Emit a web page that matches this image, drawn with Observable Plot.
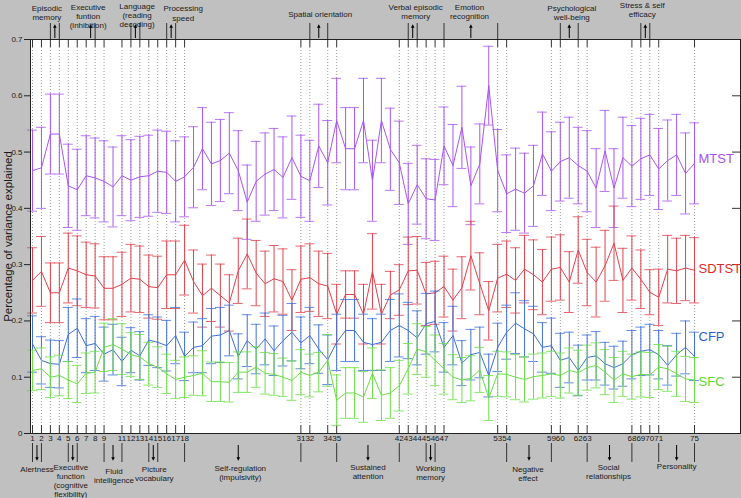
<!DOCTYPE html>
<html><head><meta charset="utf-8">
<script src="https://cdn.jsdelivr.net/npm/d3@7"></script>
<script src="https://cdn.jsdelivr.net/npm/@observablehq/plot@0.6"></script>
<style>html,body{margin:0;padding:0;background:#c0c0c0;} svg{display:block;}</style>
</head><body><div id="chart"></div>
<script>
// ---------- DATA ----------
const items = [1,2,3,4,5,6,7,8,9,10,11,12,13,14,15,16,17,18,19,20,21,22,23,24,25,26,27,28,29,30,31,32,33,34,35,36,37,38,39,40,41,42,43,44,45,46,47,48,49,50,51,52,53,54,55,56,57,58,59,60,61,62,63,64,65,66,67,68,69,70,71,72,73,74,75];

const mtstMean = [0.467,0.472,0.532,0.532,0.440,0.433,0.458,0.454,0.448,0.438,0.458,0.450,0.456,0.458,0.466,0.464,0.448,0.456,0.473,0.506,0.479,0.485,0.498,0.467,0.411,0.448,0.461,0.469,0.455,0.490,0.457,0.449,0.511,0.481,0.556,0.506,0.506,0.556,0.449,0.556,0.505,0.481,0.408,0.442,0.417,0.415,0.511,0.476,0.544,0.440,0.479,0.618,0.467,0.426,0.434,0.427,0.440,0.497,0.466,0.483,0.490,0.476,0.466,0.436,0.502,0.436,0.490,0.475,0.488,0.495,0.470,0.485,0.495,0.462,0.480];
const mtstErr  = [0.072,0.072,0.071,0.071,0.074,0.072,0.071,0.071,0.072,0.071,0.071,0.072,0.072,0.072,0.073,0.073,0.072,0.071,0.072,0.073,0.074,0.073,0.072,0.071,0.066,0.071,0.073,0.073,0.072,0.074,0.073,0.072,0.074,0.075,0.075,0.073,0.073,0.075,0.072,0.075,0.073,0.074,0.072,0.070,0.071,0.072,0.069,0.073,0.073,0.069,0.071,0.070,0.073,0.069,0.073,0.071,0.072,0.074,0.070,0.070,0.072,0.068,0.072,0.070,0.072,0.070,0.072,0.072,0.072,0.072,0.072,0.072,0.072,0.072,0.072];

const sdtstMean = [0.272,0.288,0.250,0.250,0.294,0.289,0.282,0.280,0.258,0.258,0.265,0.276,0.274,0.261,0.259,0.282,0.282,0.308,0.270,0.245,0.258,0.245,0.232,0.289,0.319,0.285,0.266,0.275,0.270,0.237,0.274,0.277,0.266,0.262,0.212,0.247,0.247,0.212,0.288,0.212,0.246,0.255,0.289,0.290,0.248,0.250,0.261,0.237,0.259,0.316,0.266,0.218,0.276,0.283,0.272,0.292,0.282,0.269,0.292,0.295,0.269,0.326,0.286,0.269,0.298,0.338,0.272,0.294,0.274,0.251,0.242,0.292,0.289,0.294,0.290];
const sdtstErr  = [0.058,0.062,0.053,0.053,0.062,0.062,0.058,0.057,0.056,0.056,0.057,0.060,0.059,0.056,0.056,0.060,0.060,0.062,0.056,0.056,0.059,0.056,0.050,0.058,0.062,0.058,0.058,0.059,0.058,0.054,0.059,0.060,0.058,0.058,0.053,0.042,0.042,0.053,0.067,0.053,0.042,0.045,0.060,0.060,0.056,0.056,0.054,0.055,0.055,0.061,0.055,0.052,0.060,0.059,0.058,0.060,0.062,0.058,0.057,0.058,0.054,0.059,0.059,0.062,0.063,0.066,0.057,0.057,0.052,0.040,0.050,0.060,0.058,0.058,0.058];

const cfpMean = [0.159,0.130,0.124,0.123,0.176,0.187,0.156,0.160,0.141,0.149,0.128,0.148,0.138,0.166,0.162,0.156,0.174,0.137,0.153,0.156,0.173,0.175,0.183,0.137,0.165,0.150,0.168,0.147,0.165,0.180,0.161,0.174,0.150,0.131,0.162,0.183,0.183,0.162,0.158,0.162,0.183,0.192,0.183,0.170,0.195,0.199,0.153,0.174,0.125,0.140,0.144,0.103,0.153,0.180,0.196,0.186,0.177,0.153,0.156,0.130,0.135,0.112,0.135,0.138,0.124,0.117,0.124,0.140,0.146,0.149,0.140,0.121,0.140,0.153,0.137];
const cfpErr  = [0.050,0.042,0.042,0.042,0.048,0.052,0.048,0.048,0.048,0.045,0.043,0.040,0.043,0.045,0.045,0.045,0.050,0.043,0.045,0.048,0.049,0.049,0.045,0.040,0.046,0.044,0.046,0.044,0.045,0.051,0.046,0.050,0.043,0.044,0.050,0.055,0.055,0.050,0.046,0.050,0.055,0.056,0.050,0.048,0.054,0.054,0.044,0.052,0.040,0.045,0.045,0.038,0.043,0.048,0.054,0.050,0.049,0.044,0.049,0.048,0.045,0.045,0.040,0.043,0.038,0.038,0.040,0.043,0.043,0.045,0.043,0.035,0.038,0.047,0.043];

const sfcMean = [0.112,0.115,0.100,0.103,0.095,0.088,0.107,0.109,0.153,0.158,0.150,0.140,0.136,0.124,0.118,0.106,0.096,0.100,0.103,0.107,0.092,0.092,0.091,0.109,0.109,0.118,0.107,0.105,0.100,0.094,0.109,0.103,0.109,0.130,0.059,0.072,0.072,0.065,0.107,0.068,0.072,0.085,0.115,0.150,0.145,0.130,0.115,0.100,0.095,0.098,0.113,0.063,0.106,0.105,0.100,0.096,0.101,0.103,0.106,0.103,0.112,0.108,0.117,0.121,0.109,0.095,0.106,0.101,0.105,0.104,0.118,0.115,0.106,0.097,0.095];
const sfcErr  = [0.036,0.037,0.036,0.036,0.033,0.033,0.036,0.037,0.043,0.046,0.045,0.039,0.040,0.038,0.036,0.035,0.034,0.036,0.035,0.040,0.035,0.035,0.035,0.036,0.036,0.036,0.037,0.037,0.034,0.035,0.040,0.038,0.035,0.046,0.045,0.045,0.045,0.045,0.045,0.045,0.045,0.045,0.045,0.045,0.045,0.045,0.045,0.040,0.040,0.040,0.040,0.040,0.040,0.040,0.040,0.040,0.040,0.040,0.040,0.040,0.040,0.040,0.040,0.040,0.040,0.040,0.040,0.040,0.040,0.040,0.040,0.040,0.040,0.040,0.040];

const seriesNames = ["MTST","SDTST","CFP","SFC"];
const seriesLabelY = [0.488, 0.293, 0.172, 0.091];

const tickIdx = [1,2,3,4,5,6,7,8,9,11,12,13,14,15,16,17,18,31,32,34,35,42,43,44,45,46,47,53,54,59,60,62,63,68,69,70,71,75];
const tickLabels = tickIdx.map(String);
const yTicks = [0,0.1,0.2,0.3,0.4,0.5,0.6,0.7];
const yTickLabels = ["0","0.1","0.2","0.3","0.4","0.5","0.6","0.7"];

const topLines = [3,4,8,12,13,16,17,32,34,43,44,47,53,60,62,69,70];
const topGroupNames = ["Episodic\nmemory","Executive\nfuntion\n(inhibition)","Language\n(reading\ndecoding)","Processing\nspeed","Spatial orientation","Verbal episodic\nmemory","Emotion\nrecognition","Psychological\nwell-being","Stress & self\nefficacy"];
const topGroupAt = [3.5, 7.5, 12.5, 16.5, 33, 43.5, 50, 61, 69.5];

const bottomLines = [1,2,5,6,9,11,14,15,18,31,35,42,45,46,54,59,63,68,71,75];
const bottomGroupNames = ["Alertness","Executive\nfunction\n(cognitive\nflexibility)","Fluid\nintelligence","Picture\nvocabulary","Self-regulation\n(impulsivity)","Sustained\nattention","Working\nmemory","Negative\neffect","Social\nrelationships","Personality"];
const bottomGroupAt = [1.5, 5.5, 10, 14.5, 24, 38.5, 45.5, 56.5, 65.5, 73];

// ---------- LAYOUT / STYLE ----------
const W = 741, H = 498, mL = 30, mR = 1, mT = 39, mB = 65;
const frameH = H - mT - mB, frameW = W - mL - mR;
const colors = {MTST: "#a855f0", SDTST: "#e0404c", CFP: "#3f6fd8", SFC: "#6ade45"};
const labelColors = {MTST: "#a94ef0", SDTST: "#dd2a2a", CFP: "#2f5fd6", SFC: "#5ad82e"};
const topLabelDx = [-8, -2.5, 1.7, 12, 1.4, 3, -1.4, 2.5, -3];
const topLabelTop = [3.7, 3, 2, 4.3, 9.7, 2.7, 2.7, 3.7, 1];
const bottomLabelDx = [0, -2, 1, 1, 2, 0, 0, -1, -1, 0];
const bottomLabelTop = [464.7, 463, 467, 465.3, 464, 462.7, 463.7, 465.3, 463, 462];
const FONT = "Liberation Sans, Arial, sans-serif";

const triUp = {draw(ctx, size){ const s = Math.sqrt(size/Math.PI); ctx.moveTo(0,-1.3*s); ctx.lineTo(s,0.7*s); ctx.lineTo(-s,0.7*s); ctx.closePath(); }};
const triDown = {draw(ctx, size){ const s = Math.sqrt(size/Math.PI); ctx.moveTo(0,1.3*s); ctx.lineTo(s,-0.7*s); ctx.lineTo(-s,-0.7*s); ctx.closePath(); }};

const seriesData = {
  MTST: [mtstMean, mtstErr], SDTST: [sdtstMean, sdtstErr], CFP: [cfpMean, cfpErr], SFC: [sfcMean, sfcErr]
};

const seriesMarks = seriesNames.flatMap(name => {
  const [mean, err] = seriesData[name];
  const rows = items.map((it, i) => ({i: it, m: mean[i], lo: mean[i] - err[i], hi: mean[i] + err[i]}));
  const c = colors[name];
  return [
    Plot.ruleX(rows, {x: "i", y1: "lo", y2: "hi", stroke: c, strokeWidth: 1}),
    Plot.ruleY(rows, {x1: d => d.i - 0.55, x2: d => d.i + 0.55, y: "lo", stroke: c, strokeWidth: 1, strokeOpacity: 0.8}),
    Plot.ruleY(rows, {x1: d => d.i - 0.55, x2: d => d.i + 0.55, y: "hi", stroke: c, strokeWidth: 1, strokeOpacity: 0.8}),
    Plot.line(rows, {x: "i", y: "m", stroke: c, strokeWidth: 1})
  ];
});

const topTextMarks = topGroupNames.map((t, k) => Plot.text([t], {
  x: () => topGroupAt[k], frameAnchor: "top", dy: topLabelTop[k] - mT, dx: topLabelDx[k],
  text: d => d, lineAnchor: "top", lineHeight: 1.15, fontSize: 8, fill: "#1a1a1a", fontFamily: FONT
}));
const bottomTextMarks = bottomGroupNames.map((t, k) => Plot.text([t], {
  x: () => bottomGroupAt[k], frameAnchor: "bottom", dy: bottomLabelTop[k] - (H - mB), dx: bottomLabelDx[k],
  text: d => d, lineAnchor: "top", lineHeight: 1.12, fontSize: 8, fill: "#1a1a1a", fontFamily: FONT
}));

const chart = Plot.plot({
  width: W, height: H,
  marginLeft: mL, marginRight: mR, marginTop: mT, marginBottom: mB,
  style: {background: "#c0c0c0", fontFamily: FONT, overflow: "visible"},
  x: {domain: [0.776, 80.14], label: null},
  y: {domain: [0, 0.7], label: null},
  marks: [
    Plot.frame({fill: "white", stroke: "none"}),
    Plot.tickX(tickIdx, {x: d => d, insetTop: 8, insetBottom: 8, stroke: "#9a9a9a", strokeDasharray: "1,2"}),
    Plot.tickX(tickIdx, {x: d => d, insetBottom: frameH - 8, stroke: "#333"}),
    Plot.tickX(tickIdx, {x: d => d, insetTop: frameH - 8, stroke: "#333"}),
    Plot.tickY(yTicks, {y: d => d, insetLeft: frameW - 8, stroke: "#333"}),
    ...seriesMarks,
    Plot.frame({stroke: "#222"}),
    Plot.axisY(yTicks, {anchor: "left", tickSize: 6, tickPadding: 2, fontSize: 8, label: null,
      tickFormat: d => yTickLabels[yTicks.indexOf(d)], stroke: "#222", fill: "#1a1a1a"}),
    Plot.axisX(tickIdx, {anchor: "bottom", tickSize: 0, tickPadding: 2, fontSize: 8, label: null,
      tickFormat: d => tickLabels[tickIdx.indexOf(d)], fill: "#1a1a1a"}),
    // header brackets & arrows
    Plot.tickX(topLines, {x: d => d, insetTop: -16, insetBottom: frameH, stroke: "#333"}),
    Plot.tickX(topGroupAt, {x: d => d, insetTop: -13, insetBottom: frameH + 1, stroke: "#000"}),
    Plot.dot(topGroupAt, {x: d => d, frameAnchor: "top", dy: -13, symbol: triUp, r: 1.8, fill: "#000", stroke: "none"}),
    // footer brackets & arrows
    Plot.tickX(bottomLines, {x: d => d, insetTop: frameH + 10, insetBottom: -29, stroke: "#333"}),
    Plot.tickX(bottomGroupAt, {x: d => d, insetTop: frameH + 12, insetBottom: -25, stroke: "#000"}),
    Plot.dot(bottomGroupAt, {x: d => d, frameAnchor: "bottom", dy: 25, symbol: triDown, r: 1.8, fill: "#000", stroke: "none"}),
    ...topTextMarks,
    ...bottomTextMarks,
    // y label
    Plot.text(["Percentage of variance explained"], {frameAnchor: "left", dx: -22, rotate: -90, textAnchor: "middle", text: d => d, fontSize: 11.5, fill: "#1a1a1a", fontFamily: FONT, ariaLabel: "ylabel"}),
    // series labels
    Plot.text(seriesNames, {x: () => 75, y: (d, i) => seriesLabelY[i], text: d => d, dx: 4, textAnchor: "start", fontSize: 13,
      fill: d => labelColors[d], fontFamily: FONT})
  ]
});
d3.select(chart).selectAll('g[aria-label="ylabel"] text').attr("textLength", 230).attr("lengthAdjust", "spacing");
document.getElementById("chart").appendChild(chart);
</script>
</body></html>
